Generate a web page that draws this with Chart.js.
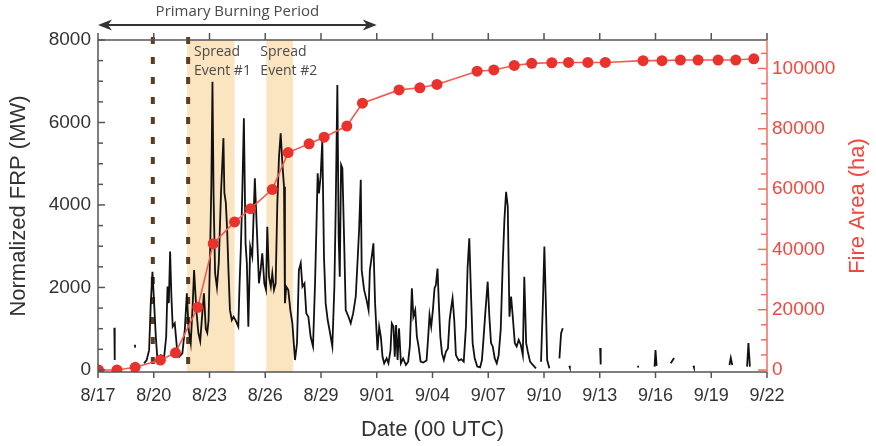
<!DOCTYPE html>
<html>
<head>
<meta charset="utf-8">
<style>
  html, body { margin: 0; padding: 0; background: #fff; }
  #wrap { width: 876px; height: 446px; }
</style>
</head>
<body>
<div id="wrap"><canvas id="frpChart" width="876" height="446"></canvas></div>
<script src="https://cdn.jsdelivr.net/npm/chart.js"></script>
<script>
// days since 8/17 00 UTC
const dateLabels = ['8/17', '8/20', '8/23', '8/26', '8/29', '9/01', '9/04', '9/07', '9/10', '9/13', '9/16', '9/19', '9/22'];
const frpTicks = [0, 2000, 4000, 6000, 8000];
const areaTicks = [0, 20000, 40000, 60000, 80000, 100000];

// normalized FRP (MW), null = gap in the record
const frpDays = [
  0.88, 0.90, 0.95,
  1.96, 1.99, 2.1,
  2.48, 2.62, 2.75, 2.84, 2.93, 3.02, 3.11, 3.2, 3.38, 3.56, 3.67, 3.74, 3.81, 3.88, 3.95,
  4.02, 4.13, 4.24, 4.37, 4.54, 4.67, 4.78, 4.88, 4.99, 5.1, 5.17, 5.3, 5.4, 5.5, 5.6, 5.7,
  5.8, 5.88, 5.95, 6.03, 6.1, 6.16, 6.22, 6.3, 6.4, 6.5, 6.62, 6.75, 6.8, 6.88, 6.95, 7.02,
  7.1, 7.2, 7.3, 7.4, 7.55, 7.62, 7.69, 7.76, 7.85, 7.94, 8.01, 8.09, 8.19, 8.3, 8.44, 8.55,
  8.66, 8.75, 8.84, 8.95, 9.04, 9.11, 9.2, 9.3, 9.38, 9.47, 9.56, 9.65, 9.74, 9.83, 9.92,
  10.01, 10.06, 10.13, 10.24, 10.35, 10.46, 10.6, 10.71, 10.81, 10.91, 11.0, 11.11, 11.21,
  11.32, 11.44, 11.57, 11.68, 11.75, 11.82, 11.89, 11.98, 12.07, 12.16, 12.25, 12.36, 12.49,
  12.61, 12.72, 12.79, 12.88, 12.95, 13.01, 13.08, 13.15, 13.24, 13.33, 13.48, 13.6, 13.73,
  13.87, 13.98, 14.05, 14.14, 14.19, 14.32, 14.45, 14.56, 14.63, 14.73, 14.82, 14.91, 15.04,
  15.13, 15.22, 15.31, 15.4, 15.53, 15.63, 15.74, 15.81, 15.9, 15.97, 16.04, 16.12, 16.2,
  16.3, 16.42, 16.57, 16.69, 16.78, 16.89, 16.97, 17.07, 17.16, 17.25, 17.36, 17.5, 17.68,
  17.77, 17.84, 17.93, 18.02, 18.11, 18.18, 18.27, 18.34, 18.42, 18.51, 18.61, 18.72, 18.83,
  18.92, 19.01, 19.08, 19.17, 19.26, 19.41, 19.55, 19.68, 19.8, 19.89, 19.98, 20.07, 20.16,
  20.27, 20.41, 20.56, 20.66, 20.74, 20.84, 20.97, 21.06, 21.15, 21.24, 21.35, 21.46, 21.56,
  21.67, 21.78, 21.87, 21.96, 22.05, 22.14, 22.23, 22.32, 22.43, 22.53, 22.64, 22.75, 22.86,
  22.94, 23.04, 23.13, 23.25, 23.4, 23.57, 23.7,
  23.84, 23.94, 24.02, 24.1, 24.17, 24.29, 24.5,
  24.83, 24.92, 25.01, 25.2,
  25.36, 25.39, 25.5,
  27.02, 27.05, 27.2,
  29.05, 29.08, 29.3,
  29.95, 30.0, 30.06, 30.3,
  30.82, 31.0, 31.2,
  32.04, 32.07, 32.3,
  33.98, 34.05, 34.13, 34.4,
  34.93, 35.0, 35.08
];
const frpValues = [
  1020, 240, null,
  560, 610, null,
  160, 240, 480, 1620, 2380, 1620, 810, 240, 360, 320, 810, 2020, 1620, 2870, 1780,
  1050, 1130, 570, 320, 400, 970, 1860, 970, 650, 1620, 2420, 1400, 900, 700, 1300, 1860,
  1000, 900, 1200, 2800, 4500, 6990, 4200, 2350, 2000, 2600, 4300, 5620, 4300, 4050, 3390, 2420,
  1450, 1210, 1290, 1210, 1050, 2100, 2990, 4200, 6100, 3070, 2590, 1050, 2990, 2750, 4650, 3390,
  2100, 2420, 2830, 2100, 1940, 3470, 2260, 2020, 2340, 1940, 2100, 4040, 5170, 5740, 5010,
  4440, 1620, 2020, 1940, 1450, 1130, 240, 650, 2420, 2590, 2020, 2100, 1370,
  1290, 810, 570, 2100, 3390, 4770, 4280, 4690, 5580, 2750, 1620, 1210, 890,
  570, 2020, 3880, 6910, 3230, 2260, 4970, 4890, 3230, 1450, 1290, 1130, 1370,
  1780, 2750, 3390, 4610, 2420, 1940, 1700, 1450, 2420, 2750, 3070, 1620, 480,
  1050, 810, 320, 160, 280, 160, 480, 1130, 1050, 320, 1090, 240, 1010,
  160, 280, 120, 200, 570, 1980, 1290, 1450, 810, 570, 200, 180, 230,
  810, 1330, 1050, 1450, 1980, 2060, 2460, 1620, 810, 400, 240, 440, 520,
  1210, 1530, 1740, 1210, 360, 230, 260, 200, 1050, 2500, 3190, 1860, 650,
  280, 80, 60, 240, 730, 1370, 2140, 1290, 650, 570, 280, 160, 360,
  970, 2590, 3640, 4320, 3960, 1290, 1780, 1290, 650, 570, 730, 610, 360,
  2260, 650, 440, 200, 120, 40, null,
  200, 1620, 2990, 1620, 240, 40, null,
  280, 890, 1010, null,
  100, 60, null,
  530, 130, null,
  100, 60, null,
  80, 480, 100, null,
  160, 290, null,
  100, 60, null,
  120, 290, 120, null,
  80, 650, 80
];

// burned area (ha)
const areaDays = [0.03, 1.02, 2.0, 3.36, 4.17, 5.37, 6.2, 7.35, 8.21, 9.38, 10.23, 11.36, 12.17, 13.39, 14.23,
  16.2, 17.32, 18.24, 20.4, 21.3, 22.4, 23.34, 24.42, 25.32, 26.36, 27.3, 29.33, 30.35, 31.34, 32.29, 33.37, 34.32, 35.29];
const areaValues = [0, 0, 900, 3300, 5700, 20800, 41900, 49100, 53500, 59900, 72100, 75000, 77200, 80900, 88500,
  92900, 93600, 94700, 99100, 99500, 101000, 101700, 101900, 102000, 102000, 102000, 102600, 102600, 102800, 102800, 102800, 102800, 103200];

const spreadEvents = [[4.79, 7.35, 'Event #1'], [9.06, 10.49, 'Event #2']];
const markerDays = [2.95, 4.85];
const burningPeriod = [0, 15];

const RED = '#f0483e';
const AXIS_FONT = "'Liberation Sans', Arial, sans-serif";
const NOTE_FONT = "'Open Sans', 'Noto Sans', sans-serif";

function line(ctx, x1, y1, x2, y2) {
  ctx.beginPath();
  ctx.moveTo(x1, y1);
  ctx.lineTo(x2, y2);
  ctx.stroke();
}

const decor = {
  id: 'decor',
  beforeDatasetsDraw(chart) {
    const { ctx, chartArea: a, scales } = chart;
    const x = scales.x;
    ctx.save();
    ctx.fillStyle = '#fbe4c0';
    spreadEvents.forEach(([d0, d1]) => {
      const x0 = x.getPixelForValue(d0), x1 = x.getPixelForValue(d1);
      ctx.fillRect(x0, a.top, x1 - x0, a.bottom - a.top);
    });
    ctx.strokeStyle = '#5e3c1f';
    ctx.lineWidth = 4;
    ctx.setLineDash([7, 13]);
    markerDays.forEach(d => {
      const px = x.getPixelForValue(d);
      line(ctx, px, a.top - 3, px, a.bottom);
    });
    ctx.restore();
  },
  afterDatasetsDraw(chart) {
    const { ctx, chartArea: a, scales } = chart;
    const x = scales.x, y = scales.y, y2 = scales.y2;
    ctx.save();
    ctx.lineWidth = 1.5;
    ctx.strokeStyle = '#555';
    line(ctx, a.left, a.top, a.right, a.top);
    line(ctx, a.left, a.bottom, a.right, a.bottom);
    line(ctx, a.left, a.top, a.left, a.bottom);
    for (let v = 0; v <= 8000; v += 500) {
      const py = y.getPixelForValue(v);
      line(ctx, a.left, py, a.left + (v % 2000 === 0 ? 7 : 5), py);
    }
    for (let d = 0; d <= 36; d += 3) {
      const px = x.getPixelForValue(d);
      line(ctx, px, a.bottom, px, a.bottom + 6);
      line(ctx, px, a.top, px, a.top - 7);
    }
    ctx.strokeStyle = '#f36d61';
    line(ctx, a.right, a.top, a.right, a.bottom);
    for (let v = 0; v <= 105000; v += 5000) {
      const py = y2.getPixelForValue(v);
      line(ctx, a.right - (v % 20000 === 0 ? 9 : 6), py, a.right, py);
    }

    // spread event notes
    ctx.fillStyle = '#4a4a4a';
    ctx.font = '14px ' + NOTE_FONT;
    ctx.textBaseline = 'middle';
    ctx.textAlign = 'left';
    spreadEvents.forEach(([d0, , label], i) => {
      const px = x.getPixelForValue(d0) + (i === 0 ? 7 : -6);
      ctx.fillText('Spread', px, a.top + 12);
      ctx.fillText(label, px, a.top + 31);
    });

    // primary burning period arrow
    const ax0 = x.getPixelForValue(burningPeriod[0]), ax1 = x.getPixelForValue(burningPeriod[1]);
    const ay = a.top - 15;
    ctx.strokeStyle = '#333';
    ctx.fillStyle = '#333';
    ctx.lineWidth = 2;
    line(ctx, ax0 + 6, ay, ax1 - 6, ay);
    [[ax0, 1], [ax1, -1]].forEach(([px, dir]) => {
      ctx.beginPath();
      ctx.moveTo(px, ay);
      ctx.lineTo(px + dir * 14, ay - 5.5);
      ctx.lineTo(px + dir * 10, ay);
      ctx.lineTo(px + dir * 14, ay + 5.5);
      ctx.closePath();
      ctx.fill();
    });
    ctx.fillStyle = '#4a4a4a';
    ctx.textAlign = 'center';
    ctx.font = '15px ' + NOTE_FONT;
    ctx.fillText('Primary Burning Period', (ax0 + ax1) / 2, ay - 13);

    // right axis title, reading upward
    ctx.fillStyle = RED;
    ctx.font = '22px ' + AXIS_FONT;
    ctx.translate(chart.width - 18, (a.top + a.bottom) / 2);
    ctx.rotate(-Math.PI / 2);
    ctx.fillText('Fire Area (ha)', 0, 0);
    ctx.restore();
  }
};

const data = {
  datasets: [
    {
      label: 'Fire Area',
      data: areaDays.map((d, i) => ({ x: d, y: areaValues[i] })),
      yAxisID: 'y2',
      borderColor: '#f35a50',
      backgroundColor: '#e8322b',
      borderWidth: 1.6,
      pointRadius: 5.5,
      pointBorderWidth: 0,
      order: 0
    },
    {
      label: 'Normalized FRP',
      data: frpDays.map((d, i) => ({ x: d, y: frpValues[i] })),
      yAxisID: 'y',
      borderColor: '#111',
      borderWidth: 1.8,
      pointRadius: 0,
      spanGaps: false,
      order: 1
    }
  ]
};

const config = {
  type: 'line',
  data: data,
  options: {
    responsive: false,
    animation: false,
    devicePixelRatio: 1,
    layout: { padding: { top: 40 } },
    plugins: { legend: { display: false }, tooltip: { enabled: false } },
    scales: {
      x: {
        type: 'linear',
        min: 0,
        max: 36,
        grid: { display: false, drawTicks: false },
        border: { display: false },
        ticks: {
          stepSize: 3,
          autoSkip: false,
          maxRotation: 0,
          padding: 13,
          color: '#333',
          font: { family: AXIS_FONT, size: 18 },
          callback: v => dateLabels[Math.round(v / 3)]
        },
        title: {
          display: true,
          text: 'Date (00 UTC)',
          color: '#333',
          font: { family: AXIS_FONT, size: 22 },
          padding: { top: 0, bottom: 3 }
        },
        afterFit: s => { s.height = 74; }
      },
      y: {
        position: 'left',
        min: -50,
        max: 8000,
        grid: { display: false, drawTicks: false },
        border: { display: false },
        afterBuildTicks: s => { s.ticks = frpTicks.map(v => ({ value: v })); },
        ticks: {
          padding: 7,
          color: '#333',
          font: { family: AXIS_FONT, size: 19 },
          callback: v => String(v)
        },
        title: {
          display: true,
          text: 'Normalized FRP (MW)',
          color: '#333',
          font: { family: AXIS_FONT, size: 22 },
          padding: { top: 6, bottom: 0 }
        },
        afterFit: s => { s.width = 98; }
      },
      y2: {
        position: 'right',
        min: -660,
        max: 109440,
        grid: { display: false, drawTicks: false },
        border: { display: false },
        afterBuildTicks: s => { s.ticks = areaTicks.map(v => ({ value: v })); },
        ticks: {
          padding: 5,
          color: RED,
          font: { family: AXIS_FONT, size: 19 },
          callback: v => String(v)
        },
        afterFit: s => { s.width = 109; }
      }
    }
  },
  plugins: [decor]
};

new Chart(document.getElementById('frpChart').getContext('2d'), config);
</script>
</body>
</html>
